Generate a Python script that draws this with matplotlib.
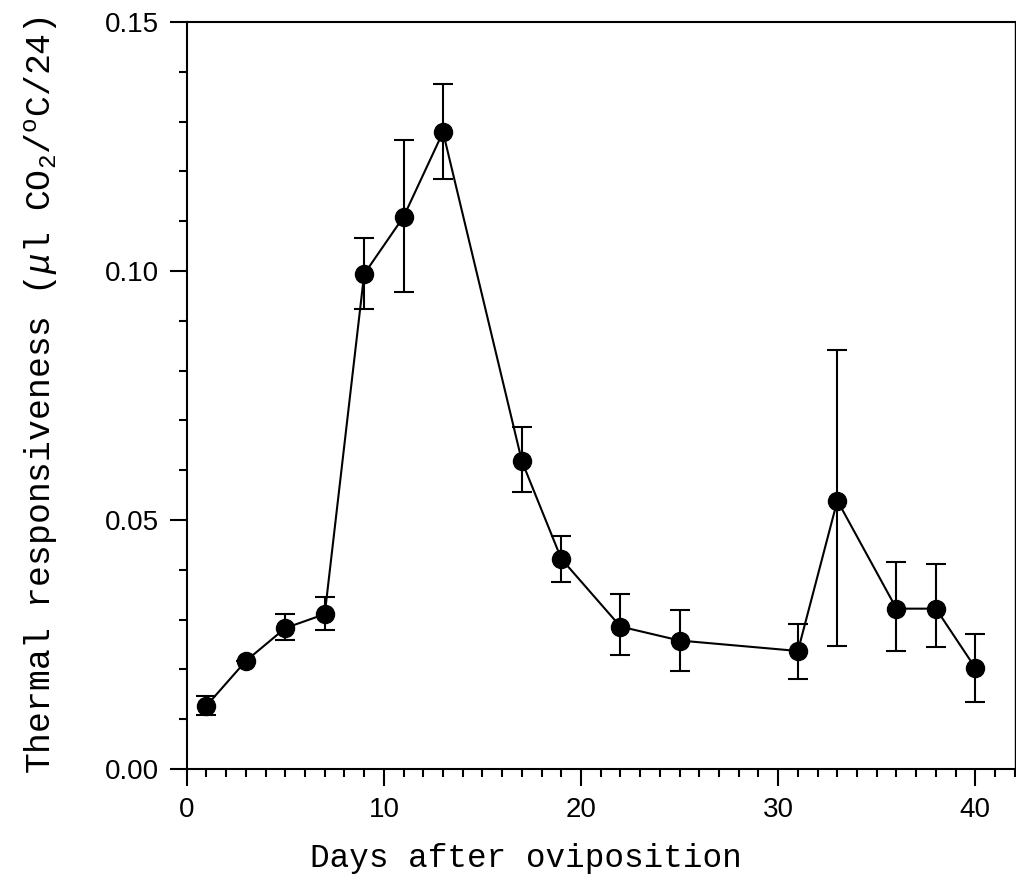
import matplotlib
matplotlib.use('Agg')
import matplotlib.pyplot as plt
from matplotlib.ticker import MultipleLocator

# Days after oviposition and thermal responsiveness (mean, upper/lower error ends)
days = [1, 3, 5, 7, 9, 11, 13, 17, 19, 22, 25, 31, 33, 36, 38, 40]
resp = [0.0127, 0.0217, 0.0283, 0.0311, 0.0994, 0.1109, 0.1279, 0.0618,
        0.0422, 0.0286, 0.0258, 0.0237, 0.0539, 0.0322, 0.0322, 0.0203]
err_hi = [0.0147, 0.0217, 0.0311, 0.0345, 0.1067, 0.1263, 0.1375, 0.0687,
          0.0468, 0.0352, 0.0319, 0.0291, 0.0841, 0.0415, 0.0411, 0.0271]
err_lo = [0.0108, 0.0217, 0.0260, 0.0279, 0.0923, 0.0958, 0.1185, 0.0556,
          0.0376, 0.0228, 0.0197, 0.0181, 0.0247, 0.0237, 0.0246, 0.0135]

yerr = [[m - lo for m, lo in zip(resp, err_lo)],
        [hi - m for m, hi in zip(resp, err_hi)]]

plt.rcParams['mathtext.fontset'] = 'custom'
plt.rcParams['mathtext.rm'] = 'Liberation Mono'
plt.rcParams['mathtext.it'] = 'Liberation Mono:italic'

fig = plt.figure(figsize=(10.16, 8.88), dpi=100)
ax = fig.add_axes([0.1838, 0.134, 0.815, 0.8412])

ax.errorbar(days, resp, yerr=yerr, fmt='-o', color='black', lw=1.5,
            elinewidth=1.5, capsize=7, capthick=1.5, markersize=13)

ax.set_xlim(0, 42)
ax.set_ylim(0, 0.15)
ax.xaxis.set_major_locator(MultipleLocator(10))
ax.xaxis.set_minor_locator(MultipleLocator(1))
ax.set_yticks([0, 0.05, 0.10, 0.15])
ax.set_yticklabels(['0.00', '0.05', '0.10', '0.15'])
ax.yaxis.set_minor_locator(MultipleLocator(0.01))

ax.tick_params(which='major', direction='out', length=12, width=1.5,
               labelsize=20, pad=8)
ax.tick_params(which='minor', direction='out', length=6, width=1.5)
for lab in ax.get_xticklabels() + ax.get_yticklabels():
    lab.set_fontfamily('Liberation Sans')

for s in ax.spines.values():
    s.set_linewidth(1.5)
ax.spines['right'].set_linewidth(1.0)

ax.set_xlabel('Days after oviposition', fontsize=23.5, family='Liberation Mono')
ax.xaxis.set_label_coords(0.41, -0.099)
ax.set_ylabel(r'Thermal responsiveness ($\mathit{\mu}$l CO$_2$/$^{\rm o}$C/24)',
              fontsize=25, family='Liberation Mono', labelpad=32)

fig.savefig('out.png', dpi=100)
